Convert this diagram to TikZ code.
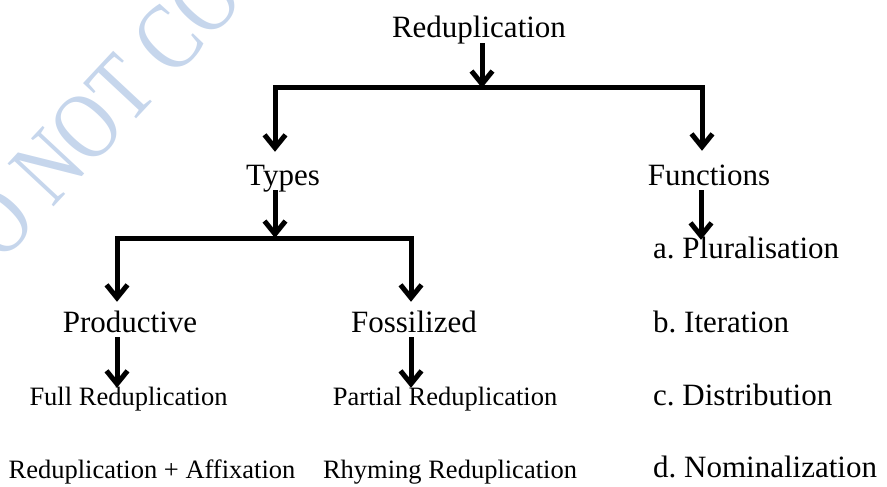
\documentclass[tikz,border=0pt]{standalone}
\usepackage{fontspec}
\setmainfont{Liberation Serif}
\usetikzlibrary{arrows.meta}
\definecolor{wmblue}{HTML}{C6D6EC}
\frenchspacing
\begin{document}
\begin{tikzpicture}[x=1pt,y=-1pt,
  big/.style={inner sep=0pt, anchor=base, font=\fontsize{31}{36}\selectfont, text height=21pt, text depth=5pt},
  small/.style={inner sep=0pt, anchor=base, font=\fontsize{26.5}{31}\selectfont, text height=18pt, text depth=4pt},
  conn/.style={line width=5pt, draw=black},
  arr/.style={conn, -{Straight Barb[length=13pt,width=21pt]}},
  arrboth/.style={conn, {Straight Barb[length=13pt,width=21pt]}-{Straight Barb[length=13pt,width=21pt]}},
  wmark/.style={inner sep=0pt, anchor=base west, rotate=47, xscale=0.8, text=wmblue, font=\fontsize{96}{100}\selectfont}
]
\useasboundingbox (0,0) rectangle (887,487);
\begin{scope}
  \clip (0,0) rectangle (887,487);
  \node[wmark] (wm) at (-36,304) {DO NOT COPY};
\end{scope}

% nodes
\node[big] (red) at (479,38) {Reduplication};
\node[big] (types) at (283,185) {Types};
\node[big] (functions) at (709,185) {Functions};
\node[big] (prod) at (130,332) {Productive};
\node[big] (fos) at (414,332) {Fossilized};
\node[small] (full) at (128.5,405) {Full Reduplication};
\node[small] (partial) at (445,405) {Partial Reduplication};
\node[small] (affix) at (152,478) {Reduplication + Affixation};
\node[small] (rhyme) at (450,478) {Rhyming Reduplication};
\node[big, anchor=base west] (plural) at (653,258) {a. Pluralisation};
\node[big, anchor=base west] (iter) at (653,332) {b. Iteration};
\node[big, anchor=base west] (distr) at (653,405) {c. Distribution};
\node[big, anchor=base west] (nomin) at (653,477) {d. Nominalization};

% junctions
\coordinate (j1) at (482,88);
\coordinate (tl) at (275,88);
\coordinate (tr) at (702,88);
\coordinate (j2) at (275,238);
\coordinate (bl) at (117,238);
\coordinate (br) at (411,238);
\coordinate (fx) at (701,200);

% connectors
\draw[arr] (red.south -| j1) -- (j1);
\draw[arrboth, shorten <=12pt, shorten >=13pt] (types.north -| tl) -- (tl) -- (tr) -- (functions.north -| tr);
\draw[arr] (types.south -| j2) -- (j2);
\draw[arrboth, shorten <=9pt, shorten >=9pt] (prod.north -| bl) -- (bl) -- (br) -- (fos.north -| br);
\draw[arr, shorten >=-1pt] (prod.south -| bl) -- (full.north -| bl);
\draw[arr, shorten >=-1pt] (fos.south -| br) -- (partial.north -| br);
\draw[arr, shorten >=-3pt] (functions.south -| fx) -- (plural.north -| fx);
\end{tikzpicture}
\end{document}
